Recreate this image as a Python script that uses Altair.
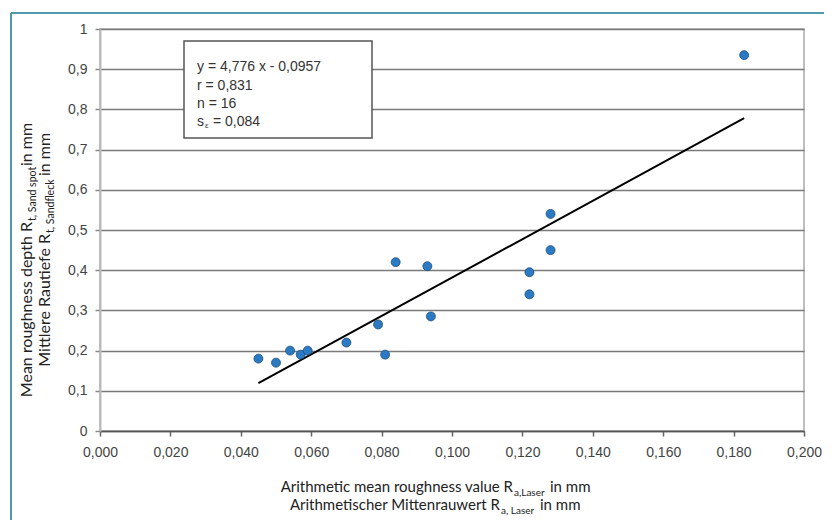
import altair as alt
import pandas as pd

# ---- data ----
ra_laser = [0.045, 0.050, 0.054, 0.057, 0.059, 0.070, 0.079, 0.081,
            0.084, 0.093, 0.094, 0.122, 0.122, 0.128, 0.128, 0.183]
rt_sand = [0.18, 0.17, 0.20, 0.19, 0.20, 0.22, 0.265, 0.19,
           0.42, 0.41, 0.285, 0.395, 0.34, 0.54, 0.45, 0.935]
fit_x = [0.045, 0.183]
fit_y = [0.119, 0.778]
x_ticks = [0.0, 0.02, 0.04, 0.06, 0.08, 0.10, 0.12, 0.14, 0.16, 0.18, 0.20]
y_ticks = [0.0, 0.1, 0.2, 0.3, 0.4, 0.5, 0.6, 0.7, 0.8, 0.9, 1.0]
box_lines = ["y = 4,776 x - 0,0957", "r = 0,831", "n = 16"]
se_parts = ["s", "ε", "= 0,084"]
x_title = [("Arithmetic mean roughness value R", "a,Laser", "in mm"),
           ("Arithmetischer Mittenrauwert R", "a, Laser", "in mm")]
y_title = [("Mean roughness depth R", "t, Sand spot", "in mm"),
           ("Mittlere Rautiefe R", "t, Sandfleck", "in mm")]

pts = pd.DataFrame({"x": ra_laser, "y": rt_sand})
fit = pd.DataFrame({"x": fit_x, "y": fit_y})
one = pd.DataFrame({"a": [0]})

xscale = alt.Scale(domain=[0, 0.2], nice=False, zero=True)
yscale = alt.Scale(domain=[0, 1], nice=False, zero=True)

x_axis = alt.Axis(values=x_ticks,
                  labelExpr="replace(format(datum.value, '.3f'), '.', ',')",
                  grid=False, domainColor="#555555", domainWidth=1.5,
                  tickColor="#666666", tickSize=5, tickWidth=1.5,
                  labelFont="Liberation Sans", labelFontSize=14,
                  labelColor="#444444", labelPadding=9, labelFlush=False,
                  labelOverlap=False)
y_axis = alt.Axis(values=y_ticks,
                  labelExpr="replace(format(datum.value, '.1~f'), '.', ',')",
                  grid=True, gridColor="#7a7a7a", gridWidth=1.6,
                  domainColor="#bbbbbb", domainWidth=2,
                  tickColor="#888888", tickSize=5, tickWidth=1.5,
                  labelFont="Liberation Sans", labelFontSize=14,
                  labelColor="#444444", labelPadding=8, labelOverlap=False)


def txt(text, x, y, size=15, align="left", angle=0, font="Lato",
        color="#222222", baseline="alphabetic"):
    return alt.Chart(pd.DataFrame({"t": [text]})).mark_text(
        align=align, baseline=baseline, angle=angle, font=font,
        fontSize=size, color=color
    ).encode(x=alt.value(x), y=alt.value(y), text="t:N")


frame_top = alt.Chart(one).mark_rule(color="#4f9aab", strokeWidth=2).encode(
    x=alt.value(-89), x2=alt.value(730), y=alt.value(-16))
frame_left = alt.Chart(one).mark_rule(color="#4f9aab", strokeWidth=2).encode(
    x=alt.value(-89), y=alt.value(-16), y2=alt.value(495))

box = alt.Chart(one).mark_rect(fill="white", stroke="#555555", strokeWidth=1.5).encode(
    x=alt.value(84), x2=alt.value(272), y=alt.value(12), y2=alt.value(109))

layers = [frame_top, frame_left, box]

# stats box text
bx = 97
line_y = [38, 57, 75, 93]
for i, s in enumerate(box_lines):
    layers.append(txt(s, bx, line_y[i], size=14, font="Liberation Sans",
                      color="#333333", baseline="middle"))
layers.append(txt(se_parts[0], bx, line_y[3], size=14, font="Liberation Sans",
                  color="#333333", baseline="middle"))
layers.append(txt(se_parts[1], bx + 8, line_y[3] + 4, size=8, font="Liberation Sans",
                  color="#333333", baseline="middle"))
layers.append(txt(se_parts[2], bx + 16, line_y[3], size=14, font="Liberation Sans",
                  color="#333333", baseline="middle"))

line = alt.Chart(fit).mark_line(color="black", strokeWidth=2).encode(
    x=alt.X("x:Q", scale=xscale, axis=x_axis, title=None),
    y=alt.Y("y:Q", scale=yscale, axis=y_axis, title=None))
points = alt.Chart(pts).mark_circle(
    size=80, fill="#2b7bc4", stroke="#1b4a78", strokeWidth=0.8, opacity=1
).encode(x=alt.X("x:Q", scale=xscale, axis=x_axis, title=None),
         y=alt.Y("y:Q", scale=yscale, axis=y_axis, title=None))
layers += [line, points]

# x axis title (two lines with subscripts)
xt_pos = [(413, 463, 450), (400, 481, 440)]
for (a, b, c), (rx, by, cx) in zip(x_title, xt_pos):
    layers.append(txt(a, rx, by, align="right"))
    layers.append(txt(b, rx + 1, by + 4, size=10))
    layers.append(txt(c, cx, by))

# y axis title (rotated, two lines with subscripts)
yt_pos = [(-68, 193, 137), (-50, 205, 147)]
for (a, b, c), (bx_, ry, cy) in zip(y_title, yt_pos):
    layers.append(txt(a, bx_, ry, size=16, align="right", angle=270))
    layers.append(txt(b, bx_ + 4, ry - 1, size=10.5, angle=270))
    layers.append(txt(c, bx_, cy, size=16, angle=270))

chart = alt.layer(*layers).properties(
    width=704, height=402,
    autosize=alt.AutoSizeParams(type="none"),
    padding={"left": 92, "top": 21, "right": 20, "bottom": 89},
    background="white",
).configure_view(stroke="#aaaaaa", strokeWidth=1.5)

chart.save("out.html", embed_options={"renderer": "svg", "actions": False})
